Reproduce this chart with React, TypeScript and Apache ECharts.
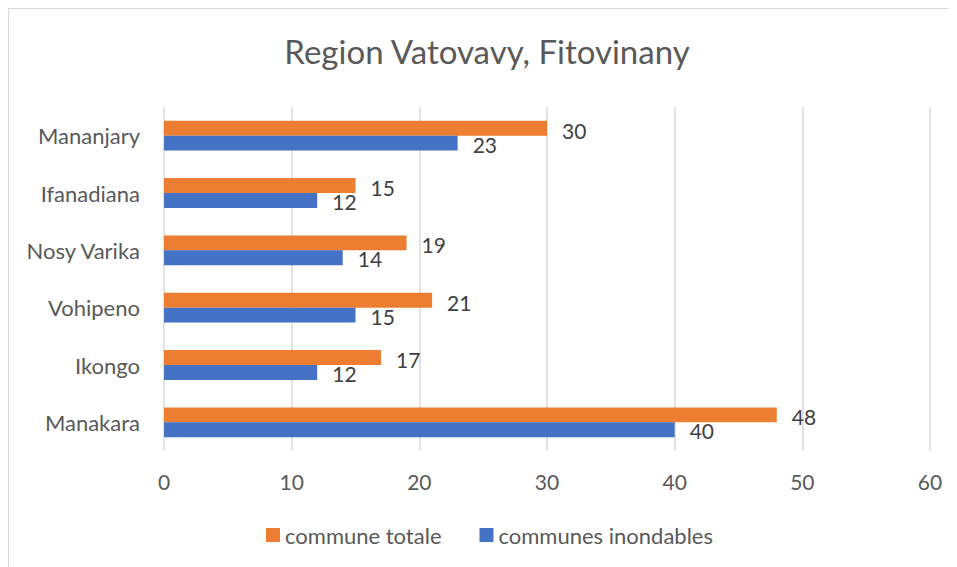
import React, { useEffect, useRef } from "react";
import * as echarts from "echarts";

const categories = ["Manakara", "Ikongo", "Vohipeno", "Nosy Varika", "Ifanadiana", "Mananjary"];
const communeTotale = [48, 17, 21, 19, 15, 30];
const communesInondables = [40, 12, 15, 14, 12, 23];
const xTicks = { min: 0, max: 60, interval: 10 };
const titleText = "Region Vatovavy, Fitovinany";
const seriesNames = ["commune totale", "communes inondables"];

const FONT = "Lato, 'Open Sans', sans-serif";

export default function App() {
  const ref = useRef<HTMLDivElement>(null);
  useEffect(() => {
    if (!ref.current) return;
    const chart = echarts.init(ref.current, undefined, { renderer: "svg" });
    chart.setOption({
      animation: false,
      backgroundColor: "#ffffff",
      textStyle: { fontFamily: FONT },
      graphic: [
        {
          type: "text",
          x: 478,
          y: 42,
          style: {
            text: titleText,
            fontFamily: FONT,
            fontSize: 33,
            fill: "#595959",
            textAlign: "center",
            textVerticalAlign: "middle",
          },
        },
      ],
      legend: {
        data: seriesNames,
        left: 257,
        top: 515,
        padding: 0,
        itemWidth: 14,
        itemHeight: 14,
        itemGap: 38,
        icon: "rect",
        textStyle: { fontFamily: FONT, fontSize: 22, color: "#595959" },
      },
      grid: { left: 155, top: 98, width: 766, height: 344, containLabel: false },
      xAxis: {
        type: "value",
        min: xTicks.min,
        max: xTicks.max,
        interval: xTicks.interval,
        axisLine: { show: false },
        axisTick: { show: false },
        splitLine: { lineStyle: { color: "#d9d9d9", width: 1.5 } },
        axisLabel: { fontFamily: FONT, fontSize: 21, color: "#595959", margin: 20 },
      },
      yAxis: {
        type: "category",
        data: categories,
        axisLine: { show: false },
        axisTick: { show: false },
        splitLine: { show: false },
        axisLabel: { fontFamily: FONT, fontSize: 22, color: "#595959", margin: 24 },
      },
      series: [
        {
          name: seriesNames[0],
          type: "bar",
          data: communeTotale,
          itemStyle: { color: "#ED7D31" },
          barGap: "0%",
          barCategoryGap: "48%",
          label: {
            show: true,
            position: "right",
            distance: 15,
            offset: [0, 2],
            fontFamily: FONT,
            fontSize: 21,
            color: "#404040",
          },
        },
        {
          name: seriesNames[1],
          type: "bar",
          data: communesInondables,
          itemStyle: { color: "#4472C4" },
          barGap: "0%",
          barCategoryGap: "48%",
          label: {
            show: true,
            position: "right",
            distance: 15,
            offset: [0, 1],
            fontFamily: FONT,
            fontSize: 21,
            color: "#404040",
          },
        },
      ],
    });
    return () => chart.dispose();
  }, []);
  return (
    <div style={{ borderLeft: "1px solid #d9d9d9", borderTop: "1px solid #d9d9d9", width: 960, height: 570 }}>
      <div ref={ref} style={{ width: 960, height: 570 }} />
    </div>
  );
}
